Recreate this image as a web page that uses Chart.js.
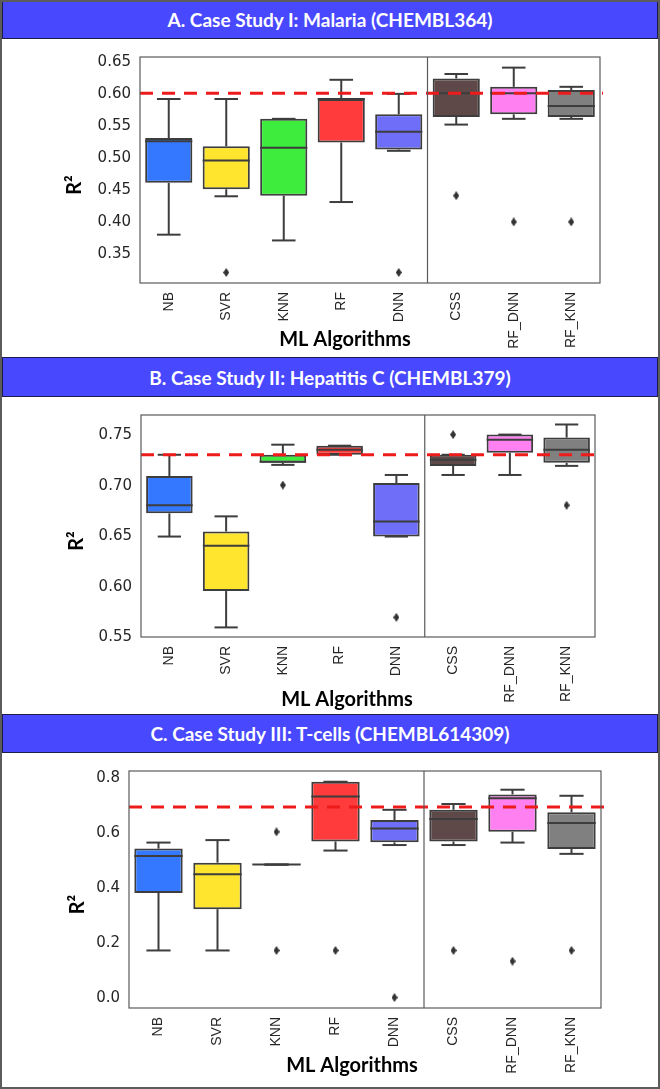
<!DOCTYPE html>
<html>
<head>
<meta charset="utf-8">
<script src="https://cdn.jsdelivr.net/npm/chart.js@4.4.0/dist/chart.umd.min.js"></script>
<style>
  body { margin: 0; background: #fff; position: relative; width: 660px; height: 1089px; overflow: hidden; }
  .frame { position: absolute; left: 0; top: 0; width: 660px; height: 1089px; box-sizing: border-box;
           border: 2px solid #5c5c5c; pointer-events: none; z-index: 5; }
  .head { position: absolute; left: 2px; width: 656px; box-sizing: border-box; background: #4848ff;
          border: 1.5px solid #1d1d4d; color: #fff; font: bold 19px Lato, sans-serif;
          display: flex; align-items: center; justify-content: center; }
  canvas { position: absolute; left: 2px; }
</style>
</head>
<body>
<div class="frame"></div>
<div class="head" style="top:0;height:39px">A. Case Study I: Malaria (CHEMBL364)</div>
<canvas id="chartA" width="656" height="318" style="top:39px"></canvas>
<div class="head" style="top:357px;height:40px">B. Case Study II: Hepatitis C (CHEMBL379)</div>
<canvas id="chartB" width="656" height="317" style="top:397px"></canvas>
<div class="head" style="top:714px;height:39px">C. Case Study III: T-cells (CHEMBL614309)</div>
<canvas id="chartC" width="656" height="334" style="top:753px"></canvas>

<script>
// categories + box colours
var algos = ["NB", "SVR", "KNN", "RF", "DNN", "CSS", "RF_DNN", "RF_KNN"];
var boxColors = ["#3478ff", "#ffe52e", "#3dec3d", "#ff3b3b", "#6e6ef8", "#5e4848", "#ff80f0", "#808080"];

// A. Malaria
var loA  = [0.38, 0.44, 0.371, 0.431, 0.511, 0.552, 0.561, 0.561];
var q1A  = [0.461, 0.451, 0.441, 0.524, 0.513, 0.564, 0.568, 0.564];
var medA = [0.526, 0.496, 0.516, 0.592, 0.541, 0.601, 0.601, 0.581];
var q3A  = [0.531, 0.518, 0.561, 0.592, 0.568, 0.624, 0.611, 0.606];
var hiA  = [0.592, 0.592, 0.561, 0.622, 0.60, 0.631, 0.641, 0.611];
var outA = [["SVR", 0.321], ["DNN", 0.321], ["CSS", 0.441], ["RF_DNN", 0.40], ["RF_KNN", 0.40]];
var refA = 0.601;
var ticksA = [0.35, 0.40, 0.45, 0.50, 0.55, 0.60, 0.65];

// B. Hepatitis C
var loB  = [0.650, 0.560, 0.721, 0.731, 0.650, 0.711, 0.711, 0.720];
var q1B  = [0.673, 0.596, 0.723, 0.731, 0.650, 0.720, 0.733, 0.723];
var medB = [0.681, 0.641, 0.724, 0.736, 0.665, 0.726, 0.746, 0.736];
var q3B  = [0.710, 0.655, 0.731, 0.740, 0.703, 0.731, 0.751, 0.748];
var hiB  = [0.731, 0.670, 0.741, 0.740, 0.711, 0.731, 0.751, 0.761];
var outB = [["KNN", 0.701], ["DNN", 0.570], ["CSS", 0.751], ["RF_KNN", 0.681]];
var refB = 0.731;
var ticksB = [0.55, 0.60, 0.65, 0.70, 0.75];

// C. T-cells
var loC  = [0.173, 0.173, 0.485, 0.536, 0.556, 0.556, 0.565, 0.524];
var q1C  = [0.382, 0.323, 0.485, 0.569, 0.566, 0.569, 0.604, 0.542];
var medC = [0.516, 0.450, 0.485, 0.732, 0.616, 0.651, 0.726, 0.636];
var q3C  = [0.543, 0.492, 0.485, 0.786, 0.647, 0.684, 0.740, 0.675];
var hiC  = [0.565, 0.574, 0.485, 0.786, 0.684, 0.705, 0.757, 0.735];
var outC = [["KNN", 0.604], ["KNN", 0.173], ["RF", 0.173], ["DNN", 0.002], ["CSS", 0.173], ["RF_DNN", 0.134], ["RF_KNN", 0.173]];
var refC = 0.694;
var ticksC = [0.0, 0.2, 0.4, 0.6, 0.8];

var yTitle = "R²";
var xTitle = "ML Algorithms";
var edge = "#3d3d3d";

// small tall diamond for outliers
var diamond = document.createElement("canvas");
diamond.width = 6; diamond.height = 9;
var dctx = diamond.getContext("2d");
dctx.fillStyle = "#333";
dctx.beginPath();
dctx.moveTo(3, 0); dctx.lineTo(6, 4.5); dctx.lineTo(3, 9); dctx.lineTo(0, 4.5);
dctx.closePath(); dctx.fill();

// whiskers, medians, reference line, frame, axis titles
var boxExtras = {
  id: "boxExtras",
  afterDatasetsDraw: function (chart, args, o) {
    var ctx = chart.ctx, a = chart.chartArea, x = chart.scales.x, y = chart.scales.y;
    var meta = chart.getDatasetMeta(0);
    function line(x1, y1, x2, y2) { ctx.beginPath(); ctx.moveTo(x1, y1); ctx.lineTo(x2, y2); ctx.stroke(); }
    ctx.save();
    ctx.strokeStyle = edge; ctx.lineWidth = 2;
    meta.data.forEach(function (bar, i) {
      var cx = bar.x, half = bar.width / 2, cap = bar.width / 4;
      var yLo = y.getPixelForValue(o.lo[i]), yQ1 = y.getPixelForValue(o.q1[i]);
      var yQ3 = y.getPixelForValue(o.q3[i]), yHi = y.getPixelForValue(o.hi[i]);
      var yMed = y.getPixelForValue(o.med[i]);
      line(cx, yQ3, cx, yHi); line(cx - cap, yHi, cx + cap, yHi);
      line(cx, yQ1, cx, yLo); line(cx - cap, yLo, cx + cap, yLo);
      line(cx - half, yMed, cx + half, yMed);
    });
    // red dashed reference
    ctx.strokeStyle = "#ee1b1b"; ctx.lineWidth = 3; ctx.setLineDash([13, 9]);
    var yr = y.getPixelForValue(o.ref);
    line(a.left, yr, a.right + 3, yr);
    ctx.setLineDash([]);
    // frame + separator
    ctx.strokeStyle = "#5a5a5a"; ctx.lineWidth = 1.2;
    ctx.strokeRect(a.left, a.top, a.right - a.left, a.bottom - a.top);
    var sx = x.getPixelForValue(4.5);
    line(sx, a.top, sx, a.bottom);
    // axis titles
    ctx.fillStyle = "#000";
    ctx.font = "bold 20px Lato";
    ctx.textAlign = "center"; ctx.textBaseline = "middle";
    ctx.fillText(xTitle, o.xTitleX, o.xTitleY);
    ctx.translate(o.titleX, (a.top + a.bottom) / 2 + 15);
    ctx.rotate(-Math.PI / 2);
    ctx.fillText(yTitle, 0, 0);
    ctx.restore();
  }
};

function makeChart(id, lo, q1, med, q3, hi, out, ref, ticks, yMin, yMax, dec, lay) {
  var ctx = document.getElementById(id).getContext("2d");
  return new Chart(ctx, {
    type: "bar",
    data: {
      labels: algos,
      datasets: [{
        data: q1.map(function (v, i) { return [v, q3[i]]; }),
        backgroundColor: boxColors,
        borderColor: edge,
        borderWidth: 2,
        borderSkipped: false,
        barPercentage: 0.82,
        categoryPercentage: 1.0,
      }, {
        type: "line",
        data: out.map(function (p) { return { x: p[0], y: p[1] }; }),
        showLine: false,
        pointStyle: diamond,
        pointRadius: 4,
      }],
    },
    options: {
      responsive: false,
      animation: false,
      devicePixelRatio: 1,
      layout: { padding: { left: 0, top: lay.top, right: lay.right, bottom: 0 } },
      plugins: {
        legend: { display: false },
        tooltip: { enabled: false },
        boxExtras: { lo: lo, q1: q1, med: med, q3: q3, hi: hi, ref: ref,
                     titleX: lay.titleX, xTitleX: lay.xTitleX, xTitleY: lay.xTitleY },
      },
      scales: {
        x: {
          offset: true,
          grid: { display: false, drawTicks: false },
          border: { display: false },
          ticks: { minRotation: 90, maxRotation: 90, autoSkip: false, padding: 9, color: "#262626",
                   font: { family: "Liberation Sans", size: 14 } },
          afterFit: function (s) { s.height = lay.axisH; },
        },
        y: {
          min: yMin, max: yMax,
          grid: { display: false, drawTicks: false },
          border: { display: false },
          afterBuildTicks: function (s) { s.ticks = ticks.map(function (v) { return { value: v }; }); },
          ticks: { padding: 9, color: "#262626", font: { family: "DejaVu Sans", size: 15 },
                   callback: function (v) { return Number(v).toFixed(dec); } },
          afterFit: function (s) { s.width = lay.left; },
        },
      },
    },
    plugins: [boxExtras],
  });
}

var chartA = makeChart("chartA", loA, q1A, medA, q3A, hiA, outA, refA, ticksA, 0.3045, 0.6576, 2,
  { top: 11, right: 58, left: 138, axisH: 74, titleX: 73, xTitleX: 343, xTitleY: 301 });
var chartB = makeChart("chartB", loB, q1B, medB, q3B, hiB, outB, refB, ticksB, 0.5505, 0.7704, 2,
  { top: 13, right: 63, left: 139, axisH: 77, titleX: 75, xTitleX: 345, xTitleY: 303 });
var chartC = makeChart("chartC", loC, q1C, medC, q3C, hiC, outC, refC, ticksC, -0.036, 0.825, 1,
  { top: 11, right: 57, left: 127, axisH: 79, titleX: 76, xTitleX: 350, xTitleY: 313 });
</script>
</body>
</html>
